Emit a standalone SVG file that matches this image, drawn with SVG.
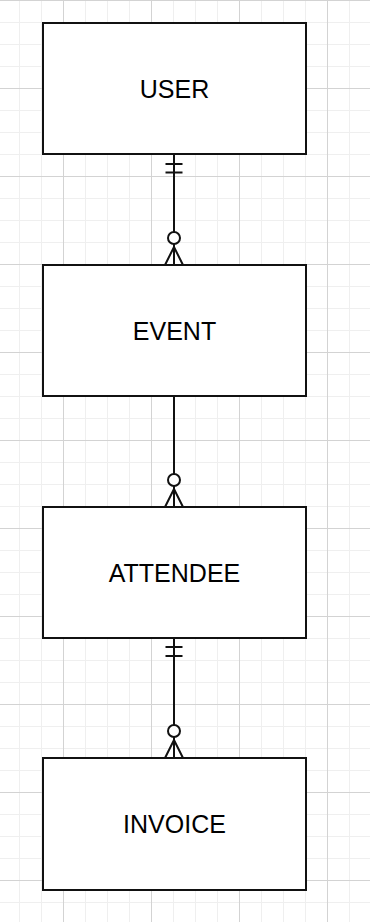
<svg xmlns="http://www.w3.org/2000/svg" width="370" height="922" viewBox="0 0 370 922">
  <defs>
    <!-- background grid: fine lines every 22px, heavier lines every 88px -->
    <pattern id="gridMinor" patternUnits="userSpaceOnUse" x="19" y="0" width="22" height="22">
      <path d="M0.5 0V22M0 0.5H22" fill="none" stroke="#efefef" stroke-width="1"/>
    </pattern>
    <pattern id="gridMajor" patternUnits="userSpaceOnUse" x="63" y="0" width="88" height="88">
      <path d="M0.5 0V88M0 0.5H88" fill="none" stroke="#d3d3d3" stroke-width="1"/>
    </pattern>
  </defs>
  <style>
    .entity rect { fill: #ffffff; stroke: #111111; stroke-width: 2; }
    .entity text { font-family: "Liberation Sans", Arial, Helvetica, sans-serif; font-size: 25px; fill: #000000; text-anchor: middle; }
    .rel path, .rel line { fill: none; stroke: #111111; stroke-width: 2; }
    .rel circle { fill: #ffffff; stroke: #111111; stroke-width: 2; }
  </style>

  <rect width="370" height="922" fill="#ffffff"/>
  <rect width="370" height="922" fill="url(#gridMinor)"/>
  <rect width="370" height="922" fill="url(#gridMajor)"/>

  <!-- relationships (crow's foot notation) -->
  <g id="connectors" class="rel">
    <!-- USER ||——o< EVENT -->
    <line x1="174" y1="154" x2="174" y2="265"/>
    <path d="M165.5 164H182.5M165.5 172.5H182.5"/>
    <path d="M165 265L174 247L183 265"/>
    <circle cx="174" cy="238" r="6"/>

    <!-- EVENT ——o< ATTENDEE -->
    <line x1="174" y1="396" x2="174" y2="507"/>
    <path d="M165 507L174 489L183 507"/>
    <circle cx="174" cy="480" r="6"/>

    <!-- ATTENDEE ||——o< INVOICE -->
    <line x1="174" y1="638" x2="174" y2="758"/>
    <path d="M165.5 647H182.5M165.5 656H182.5"/>
    <path d="M165 758L174 740L183 758"/>
    <circle cx="174" cy="731" r="6"/>
  </g>

  <g id="user" class="entity">
    <rect x="43" y="23" width="263" height="131"/>
    <text x="174.5" y="97.5">USER</text>
  </g>
  <g id="event" class="entity">
    <rect x="43" y="265" width="263" height="131"/>
    <text x="174.5" y="339.5">EVENT</text>
  </g>
  <g id="attendee" class="entity">
    <rect x="43" y="507" width="263" height="131"/>
    <text x="174.5" y="581.5">ATTENDEE</text>
  </g>
  <g id="invoice" class="entity">
    <rect x="43" y="758" width="263" height="132"/>
    <text x="174.5" y="833">INVOICE</text>
  </g>
</svg>
